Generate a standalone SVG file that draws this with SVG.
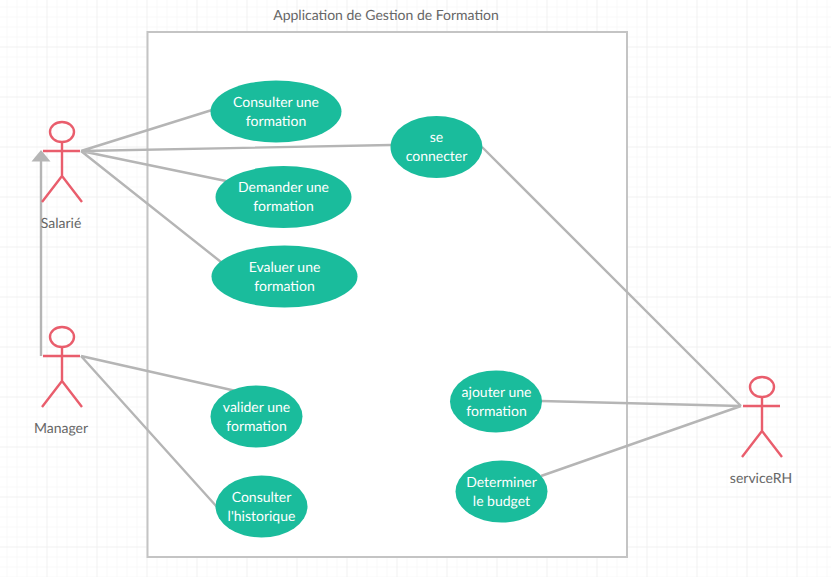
<svg xmlns="http://www.w3.org/2000/svg" width="831" height="577" viewBox="0 0 831 577">
<style>
text{font-family:Lato,"Liberation Sans",sans-serif;font-size:14px;text-anchor:middle;text-rendering:geometricPrecision}
.uc ellipse{fill:#1abc9c}
.uc text{fill:#fff}
.fig *{fill:none;stroke:#e95d6c;stroke-width:2.4}
.actor text{fill:#666}
.c{stroke:#b5b5b5;stroke-width:2.4;fill:none}
</style>
<defs>
<pattern id="g" width="10" height="10" patternUnits="userSpaceOnUse" x="-3.5" y="-3.5"><path d="M10 0H0V10" fill="none" stroke="#f3f3f3" stroke-width="1"/></pattern>
<pattern id="G" width="50" height="50" patternUnits="userSpaceOnUse" x="-3.5" y="-3.5"><path d="M50 0H0V50" fill="none" stroke="#ececec" stroke-width="1"/></pattern>
<g id="fig" class="fig"><ellipse cx="20" cy="11" rx="12" ry="10"/><path d="M1 30H38M20 21V55M0 81L20 55L40 81"/></g>
</defs>
<rect width="831" height="577" fill="#fff"/>
<rect width="831" height="577" fill="url(#g)"/>
<rect width="831" height="577" fill="url(#G)"/>
<g id="system"><rect x="147.500" y="32" width="479.500" height="525" fill="#fff" stroke="#c4c4c4" stroke-width="2"/>
<text x="386" y="20" fill="#666">Application de Gestion de Formation</text></g>
<g id="connectors">
<path class="c" d="M81 151L212 110M81 151L391 145M81 151L226 181M81 151L221 262M81 356L236 391M81 356L217 507M482 147L741 406M541 401L741 406M541 476L741 406M41 356V160"/>
<path d="M31.500 161.500L41 150L50.500 161.500Z" fill="#b5b5b5"/>
</g>
<g id="uc1" class="uc"><ellipse cx="276" cy="111.500" rx="65.500" ry="31"/><text x="276" y="107">Consulter une</text><text x="276" y="126">formation</text></g>
<g id="uc2" class="uc"><ellipse cx="283.500" cy="197" rx="68" ry="31"/><text x="283.500" y="192">Demander une</text><text x="283.500" y="211">formation</text></g>
<g id="uc3" class="uc"><ellipse cx="284.500" cy="276.500" rx="73" ry="31"/><text x="284.500" y="272">Evaluer une</text><text x="284.500" y="291">formation</text></g>
<g id="uc4" class="uc"><ellipse cx="436.500" cy="147" rx="46" ry="31"/><text x="436.500" y="142">se</text><text x="436.500" y="161">connecter</text></g>
<g id="uc5" class="uc"><ellipse cx="256.500" cy="416.500" rx="46" ry="31"/><text x="256.500" y="412">valider une</text><text x="256.500" y="431">formation</text></g>
<g id="uc6" class="uc"><ellipse cx="261.500" cy="506.500" rx="46" ry="31"/><text x="261.500" y="502">Consulter</text><text x="261.500" y="521">l'historique</text></g>
<g id="uc7" class="uc"><ellipse cx="496" cy="401.500" rx="46" ry="31"/><text x="496.500" y="397">ajouter une</text><text x="496.500" y="416">formation</text></g>
<g id="uc8" class="uc"><ellipse cx="501.500" cy="491.500" rx="46" ry="31"/><text x="501.500" y="487">Determiner</text><text x="501.500" y="506">le budget</text></g>
<g id="salarie" class="actor"><use href="#fig" x="42" y="121"/><text x="61" y="228">Salarié</text></g>
<g id="manager" class="actor"><use href="#fig" x="42" y="326"/><text x="61" y="433">Manager</text></g>
<g id="servicerh" class="actor"><use href="#fig" x="742" y="376"/><text x="761" y="483">serviceRH</text></g>
</svg>
